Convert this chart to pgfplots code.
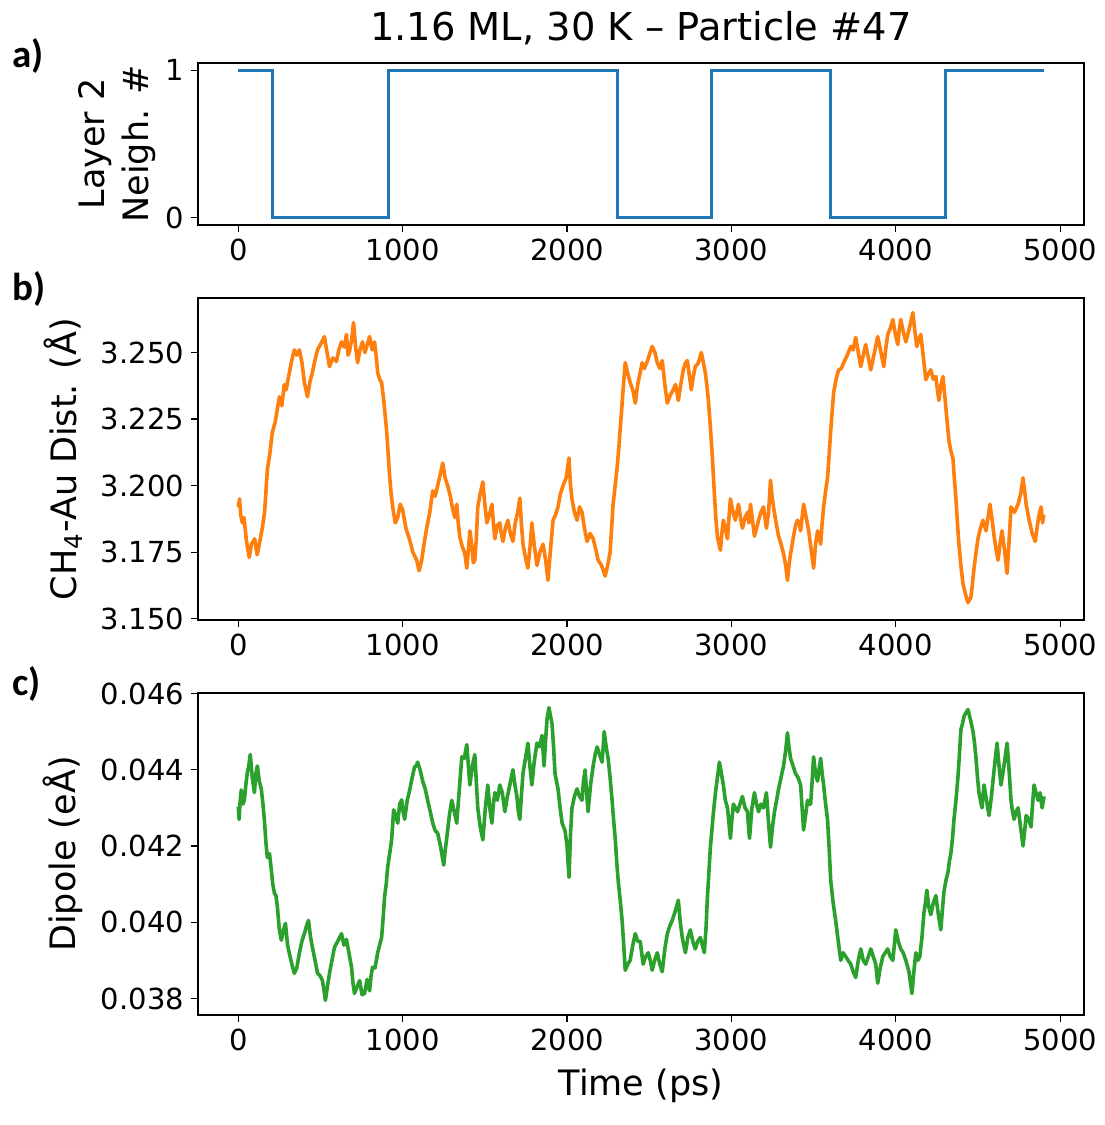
\documentclass[border=0pt]{standalone}
\usepackage{fontspec}
\setmainfont{DejaVu Sans}
\newfontfamily\carlito{Carlito}
\usepackage{pgfplots}
\pgfplotsset{compat=1.18}
\definecolor{tabblue}{HTML}{1F77B4}
\definecolor{taborange}{HTML}{FF7F0E}
\definecolor{tabgreen}{HTML}{2CA02C}
\pgfplotsset{
  panel/.style={
    scale only axis, width=443pt,
    xmin=-245, xmax=5145,
    xtick={0,1000,2000,3000,4000,5000},
    scaled ticks=false,
    tick align=outside, xtick pos=bottom, ytick pos=left,
    major tick length=3.5pt,
    every tick/.style={black, line width=0.6pt},
    axis line style={line width=0.6pt},
    tick label style={font=\fontsize{14.5}{17}\selectfont},
    label style={font=\fontsize{17.5}{22}\selectfont},
    /pgf/number format/assume math mode=true,
    /pgf/number format/1000 sep={},
    ylabel style={at={(axis description cs:-0.152,0.5)}, anchor=center},
  },
  three/.style={yticklabel style={/pgf/number format/.cd, fixed, fixed zerofill, precision=3}},
}
\begin{document}
\begin{tikzpicture}
\useasboundingbox (0,0) rectangle (552pt,-562.5pt);
% panel a
\begin{axis}[panel, at={(99pt,-31.5pt)}, anchor=north west, height=81pt,
  ymin=-0.05, ymax=1.05, ytick={0,1},
  ylabel={Layer 2\\Neigh. \#},
  ylabel style={at={(axis description cs:-0.0914,0.5)}, anchor=center, align=center, font=\fontsize{17.5}{22}\selectfont},
  title={1.16 ML, 30 K – Particle \#47},
  title style={font=\fontsize{19.2}{23}\selectfont, at={(axis description cs:0.5,1)}, anchor=base, yshift=5.5pt},
]
\addplot[tabblue, line width=1.5pt, no markers] coordinates {
(0,1) (207,1) (207,0) (911,0) (911,1) (2309,1) (2309,0) (2878,0) (2878,1) (3604,1) (3604,0) (4305,0) (4305,1) (4900,1)};
\end{axis}
% panel b
\begin{axis}[panel, three, at={(99pt,-149pt)}, anchor=north west, height=161pt,
  ymin=3.1495, ymax=3.2705, ytick={3.150,3.175,3.200,3.225,3.250},
  ylabel={CH\textsubscript{4}-Au Dist. (Å)},
]
\addplot[taborange, line width=1.8pt, line join=round, no markers] table {
0 3.192
8 3.195
15 3.189
25 3.186
35 3.188
50 3.179
67 3.173
80 3.178
100 3.180
115 3.174
128 3.178
146 3.184
160 3.190
177 3.206
192 3.212
207 3.220
225 3.224
250 3.2334
265 3.230
280 3.238
291 3.236
311 3.2425
325 3.247
341 3.251
355 3.249
372 3.251
388 3.246
402 3.2387
412 3.236
421 3.2334
436 3.239
451 3.2425
466 3.247
482 3.251
500 3.253
524 3.256
540 3.250
555 3.2447
575 3.248
597 3.2466
612 3.251
628 3.254
645 3.252
658 3.2568
668 3.249
677 3.2505
690 3.255
701 3.2613
714 3.252
726 3.2462
740 3.251
756 3.254
770 3.250
785 3.253
799 3.256
815 3.251
829 3.254
840 3.248
848 3.2425
860 3.240
872 3.2387
885 3.232
902 3.221
912 3.212
921 3.2033
930 3.197
939 3.192
955 3.186
970 3.188
985 3.193
1000 3.1908
1020 3.184
1043 3.1795
1062 3.175
1085 3.172
1100 3.168
1116 3.172
1130 3.178
1146 3.184
1165 3.190
1183 3.198
1198 3.196
1213 3.200
1228 3.204
1244 3.2085
1258 3.203
1274 3.200
1290 3.196
1305 3.191
1318 3.188
1329 3.193
1338 3.186
1348 3.1806
1363 3.177
1378 3.1746
1390 3.169
1400 3.176
1409 3.183
1420 3.178
1430 3.171
1439 3.172
1448 3.180
1457 3.192
1472 3.197
1488 3.2014
1500 3.193
1512 3.186
1528 3.189
1543 3.193
1552 3.186
1561 3.180
1575 3.185
1591 3.186
1600 3.182
1610 3.179
1625 3.184
1640 3.187
1655 3.182
1671 3.179
1685 3.186
1700 3.190
1713 3.1953
1722 3.186
1732 3.178
1747 3.173
1762 3.169
1775 3.177
1786 3.186
1800 3.178
1817 3.170
1835 3.175
1854 3.178
1870 3.172
1884 3.1644
1898 3.175
1915 3.187
1930 3.189
1945 3.192
1960 3.197
1976 3.200
1995 3.203
2012 3.2104
2020 3.201
2030 3.195
2045 3.190
2061 3.187
2076 3.192
2091 3.190
2106 3.184
2122 3.179
2140 3.182
2159 3.180
2175 3.176
2189 3.172
2210 3.170
2232 3.166
2247 3.170
2262 3.175
2272 3.185
2280 3.193
2293 3.200
2305 3.207
2315 3.214
2323 3.221
2333 3.229
2341 3.236
2354 3.2462
2370 3.242
2384 3.2387
2400 3.236
2415 3.231
2430 3.238
2445 3.2425
2457 3.2462
2470 3.244
2488 3.2466
2505 3.250
2518 3.2523
2535 3.250
2549 3.2462
2565 3.244
2579 3.247
2595 3.238
2610 3.231
2628 3.234
2646 3.236
2660 3.238
2677 3.232
2692 3.238
2707 3.2435
2720 3.246
2732 3.247
2745 3.241
2756 3.236
2768 3.241
2780 3.2447
2798 3.246
2817 3.250
2830 3.246
2841 3.2425
2850 3.238
2860 3.232
2872 3.222
2884 3.2108
2896 3.1972
2905 3.188
2915 3.1806
2933 3.1757
2942 3.182
2951 3.187
2963 3.184
2976 3.180
2985 3.188
2994 3.195
3010 3.190
3024 3.187
3033 3.190
3043 3.193
3055 3.188
3067 3.184
3083 3.188
3098 3.190
3107 3.186
3116 3.193
3128 3.187
3140 3.181
3153 3.184
3165 3.187
3180 3.190
3195 3.192
3204 3.188
3213 3.184
3226 3.190
3238 3.202
3247 3.196
3256 3.192
3272 3.186
3287 3.181
3302 3.178
3317 3.1745
3330 3.170
3341 3.1644
3350 3.170
3360 3.1745
3370 3.178
3378 3.181
3390 3.185
3402 3.187
3412 3.186
3421 3.183
3430 3.188
3439 3.193
3455 3.188
3470 3.183
3485 3.176
3500 3.169
3512 3.178
3524 3.183
3533 3.181
3543 3.178
3552 3.186
3561 3.192
3573 3.198
3585 3.203
3595 3.212
3604 3.2205
3613 3.228
3622 3.235
3637 3.240
3652 3.2435
3668 3.244
3683 3.2462
3705 3.249
3726 3.2523
3740 3.251
3756 3.2557
3772 3.250
3787 3.2447
3802 3.249
3817 3.253
3833 3.248
3848 3.2435
3870 3.250
3890 3.256
3910 3.250
3927 3.2447
3940 3.252
3951 3.2568
3966 3.259
3982 3.2624
3997 3.257
4012 3.253
4020 3.258
4030 3.2624
4045 3.258
4061 3.254
4082 3.259
4104 3.265
4116 3.258
4128 3.2523
4140 3.255
4152 3.2568
4168 3.248
4183 3.2398
4198 3.242
4213 3.2435
4228 3.240
4244 3.241
4253 3.236
4262 3.232
4275 3.238
4287 3.241
4296 3.235
4305 3.229
4314 3.223
4323 3.217
4335 3.213
4348 3.210
4357 3.202
4366 3.195
4375 3.186
4384 3.178
4396 3.170
4409 3.163
4425 3.159
4439 3.156
4448 3.157
4457 3.158
4466 3.163
4476 3.169
4488 3.175
4500 3.180
4515 3.184
4530 3.187
4540 3.185
4549 3.183
4561 3.188
4573 3.193
4586 3.187
4598 3.181
4610 3.176
4622 3.172
4634 3.178
4646 3.183
4661 3.176
4677 3.167
4690 3.180
4701 3.192
4722 3.190
4744 3.193
4760 3.197
4774 3.2029
4784 3.198
4793 3.193
4802 3.190
4811 3.187
4830 3.182
4848 3.179
4857 3.183
4866 3.187
4875 3.190
4884 3.192
4893 3.186
4900 3.189
};
\end{axis}
% panel c
\begin{axis}[panel, three, at={(99pt,-346.5pt)}, anchor=north west, height=161pt,
  ymin=0.037566, ymax=0.046014, ytick={0.038,0.040,0.042,0.044,0.046},
  ylabel={Dipole (eÅ)},
  xlabel={Time (ps)},
  xlabel style={at={(axis description cs:0.5,0)}, anchor=base, yshift=-40pt},
]
\addplot[tabgreen, line width=1.8pt, line join=round, no markers] table {
0 0.04303
5 0.0427
10 0.0431
18 0.04347
28 0.0431
37 0.0432
46 0.0436
55 0.04392
64 0.0441
73 0.0444
85 0.0438
98 0.0434
107 0.0439
116 0.0441
128 0.0437
140 0.0435
150 0.0431
159 0.04268
168 0.0421
177 0.0417
190 0.0418
201 0.04137
210 0.0410
220 0.04076
229 0.0407
238 0.0404
250 0.0398
262 0.03953
275 0.0398
287 0.03997
300 0.0394
311 0.03918
326 0.0389
341 0.03866
356 0.0388
372 0.0392
387 0.0395
402 0.0397
415 0.0399
427 0.04005
440 0.0396
451 0.03934
467 0.0390
482 0.03866
497 0.0386
512 0.03847
522 0.0382
530 0.03795
542 0.0383
555 0.03866
570 0.0390
585 0.03934
605 0.0395
628 0.0397
643 0.0394
658 0.03955
673 0.0392
689 0.03882
698 0.0384
707 0.03813
722 0.0383
738 0.03847
753 0.0381
768 0.03813
784 0.0385
799 0.0382
808 0.0386
817 0.03882
832 0.0388
848 0.0392
860 0.0394
872 0.0396
881 0.0401
890 0.04066
900 0.0410
909 0.04145
921 0.0418
933 0.04216
940 0.0426
945 0.04295
958 0.0428
970 0.0426
982 0.0431
994 0.04321
1003 0.0429
1012 0.0427
1028 0.0432
1043 0.04347
1058 0.0438
1073 0.04408
1082 0.0441
1091 0.0442
1106 0.0440
1122 0.0437
1137 0.0435
1152 0.0432
1168 0.0429
1183 0.0426
1198 0.0424
1213 0.04234
1230 0.0420
1250 0.0415
1259 0.0419
1268 0.0422
1284 0.0428
1299 0.0432
1314 0.0429
1329 0.0426
1345 0.0435
1360 0.04434
1375 0.0443
1390 0.04466
1400 0.0441
1409 0.0436
1424 0.0441
1439 0.0444
1448 0.0437
1457 0.0430
1472 0.0425
1488 0.04216
1503 0.0430
1518 0.0436
1530 0.0430
1543 0.0426
1552 0.0431
1561 0.0434
1576 0.0432
1591 0.0436
1606 0.0434
1622 0.0429
1637 0.0433
1652 0.0436
1661 0.0438
1671 0.0440
1683 0.0436
1695 0.0433
1704 0.0429
1713 0.0427
1722 0.0433
1732 0.0439
1747 0.0443
1762 0.0447
1774 0.0441
1786 0.0436
1800 0.0442
1817 0.0447
1832 0.0446
1848 0.0449
1854 0.0445
1860 0.0441
1870 0.0448
1878 0.04532
1890 0.04563
1900 0.0454
1909 0.0452
1918 0.0446
1927 0.0439
1936 0.0437
1945 0.0435
1958 0.0430
1970 0.0426
1979 0.0425
1988 0.0424
2000 0.0420
2012 0.04118
2021 0.0423
2030 0.0430
2045 0.0433
2061 0.0435
2076 0.0433
2091 0.0432
2100 0.0437
2110 0.0440
2119 0.0434
2128 0.0429
2143 0.0436
2159 0.0441
2171 0.0444
2183 0.0446
2198 0.0444
2213 0.0442
2220 0.0446
2226 0.0450
2238 0.0446
2250 0.0443
2262 0.0438
2274 0.0432
2283 0.0427
2293 0.0422
2302 0.0416
2311 0.0411
2323 0.0406
2335 0.04005
2345 0.0394
2354 0.03874
2370 0.0389
2384 0.0390
2400 0.0394
2415 0.0397
2430 0.0395
2445 0.0395
2463 0.0389
2478 0.0391
2494 0.0392
2506 0.0390
2518 0.03874
2533 0.0390
2549 0.0392
2564 0.0389
2579 0.0387
2595 0.0393
2610 0.0397
2625 0.0399
2640 0.04005
2659 0.0403
2677 0.04058
2689 0.0400
2701 0.0396
2710 0.0394
2720 0.0392
2735 0.0396
2750 0.0398
2765 0.0395
2780 0.0393
2795 0.0395
2811 0.0396
2823 0.0394
2835 0.0392
2845 0.0398
2854 0.04066
2863 0.0413
2872 0.04197
2881 0.0424
2890 0.04286
2903 0.0434
2915 0.0438
2927 0.0442
2939 0.0439
2951 0.0436
2963 0.0432
2976 0.0430
2985 0.0426
2994 0.0422
3003 0.0427
3012 0.0431
3025 0.0430
3037 0.0429
3052 0.0431
3067 0.0433
3083 0.0430
3098 0.0429
3104 0.0425
3110 0.0422
3125 0.0430
3140 0.0434
3153 0.0431
3165 0.0429
3180 0.0431
3195 0.0430
3204 0.0432
3213 0.0434
3226 0.0426
3238 0.04197
3250 0.0425
3262 0.0429
3275 0.0432
3287 0.0435
3302 0.0438
3317 0.0441
3330 0.0445
3341 0.04497
3350 0.0446
3360 0.0443
3375 0.0441
3390 0.0439
3405 0.0438
3421 0.0436
3430 0.0430
3439 0.04242
3451 0.0428
3463 0.0432
3472 0.0431
3482 0.0431
3491 0.0437
3500 0.04434
3512 0.0439
3524 0.0437
3533 0.0440
3543 0.0443
3552 0.0439
3561 0.0436
3573 0.0431
3585 0.04268
3595 0.0419
3604 0.0411
3619 0.0405
3634 0.04005
3650 0.0395
3665 0.0390
3680 0.0392
3695 0.0391
3710 0.0390
3726 0.0389
3741 0.0387
3756 0.03855
3772 0.0390
3787 0.0393
3802 0.0390
3817 0.0389
3833 0.0391
3848 0.0393
3863 0.0391
3878 0.0389
3890 0.0384
3905 0.0388
3921 0.0391
3936 0.0392
3951 0.0393
3966 0.0391
3982 0.0390
3991 0.0394
4000 0.0398
4015 0.0395
4030 0.0393
4045 0.0392
4061 0.0390
4080 0.0387
4098 0.03813
4110 0.0387
4122 0.0392
4134 0.0390
4146 0.0391
4159 0.0396
4171 0.04024
4180 0.0405
4189 0.04084
4201 0.0404
4213 0.0402
4228 0.0405
4244 0.0407
4259 0.0402
4274 0.0398
4283 0.0403
4293 0.0408
4305 0.0411
4317 0.0413
4326 0.0416
4335 0.0418
4345 0.0422
4354 0.0427
4366 0.0432
4378 0.0438
4387 0.0444
4396 0.04505
4405 0.0452
4415 0.0454
4427 0.0455
4439 0.04558
4455 0.0453
4470 0.0450
4479 0.0447
4488 0.0443
4497 0.0438
4506 0.0434
4515 0.0432
4524 0.0430
4530 0.0433
4537 0.0436
4552 0.0432
4567 0.0428
4579 0.0432
4591 0.0437
4603 0.0442
4616 0.0447
4628 0.0441
4640 0.0436
4658 0.0441
4677 0.0447
4689 0.0440
4701 0.0432
4710 0.0429
4720 0.0427
4732 0.0429
4744 0.0430
4759 0.0425
4774 0.0420
4784 0.0424
4793 0.0428
4808 0.0427
4823 0.0425
4832 0.0431
4841 0.0436
4853 0.0434
4866 0.0432
4878 0.0434
4890 0.0430
4902 0.0433
};
\end{axis}
\node[anchor=base west, inner sep=0pt, font=\carlito\bfseries\fontsize{19.5}{22}\selectfont] at (6pt,-33.5pt) {a)};
\node[anchor=base west, inner sep=0pt, font=\carlito\bfseries\fontsize{19.5}{22}\selectfont] at (6pt,-150pt) {b)};
\node[anchor=base west, inner sep=0pt, font=\carlito\bfseries\fontsize{19.5}{22}\selectfont] at (6pt,-347.5pt) {c)};
\end{tikzpicture}
\end{document}
